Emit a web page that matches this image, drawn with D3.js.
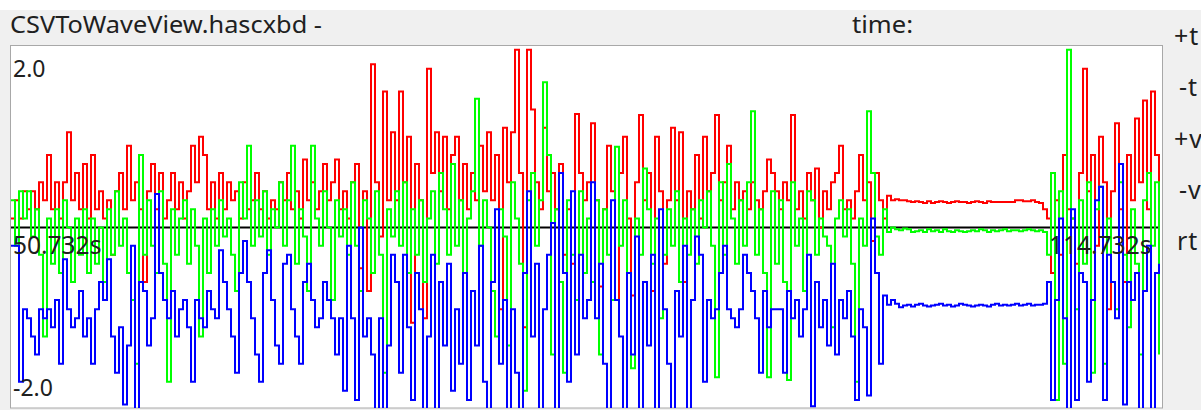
<!DOCTYPE html>
<html><head><meta charset="utf-8">
<script src="https://cdn.jsdelivr.net/npm/d3@7"></script>
<style>html,body{margin:0;padding:0;background:#f0f0f0;overflow:hidden}svg{display:block}</style>
</head><body>
<svg id="c" width="1201" height="410"></svg>
<script>
const title = "CSVToWaveView.hascxbd -";
const timeTitle = "time:";
const buttons = ["+t", "-t", "+v", "-v", "rt"];
const yTickValues = [2.0, -2.0];
const yTickLabels = ["2.0", "-2.0"];
const timeTicks = [50.732, 114.732];
const timeLabels = ["50.732s", "114.732s"];

const red = [
0.1,0.3,0.1,0.4,0.2,0.4,0.2,0.5,0.3,0.8,0.2,0.5,0.1,0.5,1.05,0.3,0.6,0.2,0.7,0.1,0.8,0.2,0.4,0.1,0.3,-0.3,0.4,0.6,0.2,0.9,0.3,0.5,0.2,-0.6,0.4,0.7,0.2,0.6,0.1,0.3,0.6,0.2,0.5,0.1,0.4,0.9,0.5,1.0,
0.8,0.2,0.5,0.1,0.6,0.2,0.5,0.3,0.4,0.1,0.5,0.2,0.3,0.6,0.2,0.4,0.1,0.3,0.2,0.5,0.3,0.6,0.2,0.4,0.1,0.75,0.3,0.5,0.2,0.4,0.7,0.3,0.5,0.75,0.2,0.4,0.1,0.5,0.7,-0.45,0.4,-0.7,1.8,0.5,-0.1,1.5,0.3,1.05,
0.3,1.5,0.5,1.0,-1.05,0.7,0.3,-1.0,1.75,0.6,1.05,0.4,1.0,0.2,0.8,1.0,0.3,0.7,0.2,0.6,0.3,0.9,0.4,1.05,0.3,0.8,-0.9,1.1,0.5,1.05,1.96,0.6,-1.1,1.96,1.3,0.5,0.2,1.1,0.4,0.6,0.2,0.7,-0.3,0.2,-0.4,1.25,0.6,0.3,
0.5,1.15,0.3,-0.65,0.2,0.9,0.4,-0.8,0.6,1.0,0.1,-0.75,0.5,1.24,0.3,0.6,-0.7,1.0,0.4,-0.4,0.3,1.1,0.3,1.05,-0.6,0.4,0.2,0.8,0.1,1.0,0.4,0.6,1.24,0.3,0.5,0.9,0.2,0.5,0.3,0.4,0.2,0.5,0.3,0.2,0.4,0.75,0.6,0.4,
0.2,0.5,0.3,1.24,0.2,0.4,0.1,0.6,0.3,0.65,0.0,0.4,0.2,0.5,0.6,0.9,0.2,0.3,0.1,0.4,0.8,0.3,0.5,-0.15,0.6,0.3,0.1,0.35,
0.3,0.31,0.3,0.3,0.29,0.28,0.29,0.28,0.27,0.29,0.27,0.28,0.29,0.28,0.27,0.28,0.29,0.28,0.28,0.27,
0.28,0.29,0.28,0.27,0.29,0.28,0.28,0.28,0.28,0.28,0.28,0.3,0.3,0.29,0.29,0.3,0.28,0.27,0.2,
0.1,-0.5,0.3,-0.3,0.8,0.2,0.1,-0.4,0.6,1.75,0.4,0.8,-0.2,1.0,0.5,-0.9,0.4,1.15,0.2,-0.6,0.8,0.3,1.2,0.5,1.4,0.2,1.5,0.8,0.3
];

const green = [
0.3,-0.2,0.4,0.1,0.4,-0.1,0.2,-0.3,-1.2,0.1,-0.4,0.2,-0.5,0.3,0.0,-0.6,0.1,-0.3,0.2,-0.5,0.1,-0.4,0.0,-0.6,0.2,-0.3,0.4,-0.2,0.1,-0.5,-0.8,-1.5,0.8,-0.3,0.3,-0.2,-0.5,0.4,-0.4,-1.7,0.2,-0.3,0.1,0.3,-0.4,0.2,-0.2,-1.2,
0.1,-0.5,0.2,-0.2,0.3,-0.1,0.1,-0.3,-0.7,0.5,0.1,0.9,-0.2,0.3,-0.1,0.4,-0.3,0.2,0.0,0.5,-0.2,0.3,0.9,-0.4,0.2,-0.1,-0.7,0.9,0.1,-0.2,0.4,0.0,-0.8,0.3,-0.1,0.2,-0.3,0.5,-0.2,-0.7,0.3,0.1,-0.5,0.4,-0.3,-1.6,0.2,-0.1,
0.4,-0.2,0.5,-0.5,0.2,-0.3,0.3,-0.6,0.1,0.4,-0.4,0.6,0.2,-0.3,0.7,-0.2,0.3,-0.5,0.1,0.4,1.42,-0.2,0.3,0.0,-0.7,-1.2,0.2,-0.1,-1.3,0.5,0.1,-0.4,-1.8,0.3,0.6,-0.2,0.3,1.6,0.8,-1.4,0.2,-0.6,-1.6,0.3,-0.3,-0.8,0.4,-0.5,
0.1,-0.6,0.3,-1.4,0.2,-0.3,-0.8,0.89,-0.2,0.3,-0.5,-1.55,0.1,-0.3,0.65,0.2,-0.4,0.1,-1.0,-0.3,0.2,-0.2,0.4,-0.6,0.1,-0.3,0.2,-0.4,0.3,0.0,0.4,-0.2,-1.65,0.5,-0.3,0.7,0.1,-0.4,0.3,-0.2,0.5,1.28,-0.3,0.2,-0.5,-1.65,0.4,-0.4,
0.3,-0.6,-1.68,0.5,-0.2,0.1,-0.7,0.4,0.3,-0.3,0.1,-0.1,-0.2,-1.1,0.1,0.3,-0.1,0.2,-0.4,-1.7,0.1,-0.2,1.28,0.6,-0.1,-0.3,0.2,-0.05,
0.0,-0.02,-0.03,-0.01,-0.02,-0.05,-0.04,-0.03,-0.05,-0.02,-0.04,-0.03,-0.05,-0.02,-0.04,-0.05,-0.03,-0.04,-0.05,-0.04,
-0.03,-0.04,-0.02,-0.03,-0.05,-0.03,-0.04,-0.03,-0.02,-0.04,-0.03,-0.03,-0.04,-0.03,-0.02,-0.03,-0.04,-0.03,-0.05,
-0.3,0.6,-1.9,0.4,-1.5,1.96,0.1,-0.9,0.3,-0.4,0.5,-1.6,0.2,0.45,-1.5,0.1,-0.6,-0.9,0.5,-0.3,-1.1,0.2,-0.4,-1.4,0.3,0.6,-0.2,0.5,-1.4
];

const blue = [
-0.2,-0.2,-1.7,-0.9,-1.0,-1.2,-1.4,-0.9,-1.0,-0.9,-1.1,-0.8,-1.5,-0.35,-0.9,-1.1,-1.0,-0.7,-1.2,-1.0,-1.5,-0.9,-0.6,-0.8,-0.35,-1.2,-1.6,-1.1,-1.95,-1.3,-0.2,-2.0,-0.6,-0.7,-1.3,-1.0,0.37,-0.5,-0.8,-1.0,-0.7,-1.2,-0.9,-0.8,-1.1,-1.7,-0.8,-1.0,
-1.1,-0.7,-0.9,-1.0,-0.25,-0.6,-0.9,-1.2,-1.6,-0.5,-0.15,-0.6,-1.0,-1.4,-1.7,-0.5,-0.25,-0.8,-1.3,-1.5,-0.4,-0.3,-0.9,-1.2,-1.5,-0.6,-0.4,-0.8,-1.1,-1.0,-0.6,-0.8,-1.0,-1.4,-1.0,-1.8,-0.2,-1.0,-1.9,0.0,-1.2,-1.0,-1.4,-2.0,-1.0,-2.0,-1.3,-0.3,
-0.6,-1.6,-0.3,-1.1,-1.9,-0.5,-0.9,-2.0,-1.2,-0.3,-2.0,-0.6,-1.3,-0.4,-1.8,-0.9,-1.5,-0.5,-1.9,-0.7,-1.3,-0.2,-1.7,-2.0,-0.6,0.2,-1.5,-0.8,-2.0,-0.9,-1.6,-2.0,-0.5,0.4,-1.2,-0.4,-2.0,-0.9,-0.3,0.05,-2.0,0.6,-0.5,-1.7,0.4,-1.4,-0.3,-1.0,
-0.8,0.5,-1.0,-0.4,-1.5,-2.0,0.3,-0.8,-1.2,-2.0,-0.5,-1.4,-0.1,-2.0,-0.6,-1.3,-0.3,-2.0,0.2,-0.9,-1.5,-2.0,-0.7,-1.2,-0.2,-2.0,-0.8,-0.1,-0.3,-1.7,-0.8,-1.0,-0.9,-0.5,-0.2,-0.9,-1.0,-1.1,-0.9,-0.3,-0.5,-0.7,-1.0,-1.6,-0.7,-1.1,-0.9,-0.9,
-0.9,-1.6,-0.7,-1.0,-0.8,-1.2,-0.9,-0.3,-1.97,-0.6,-1.1,-0.8,-1.3,-0.4,-1.4,-0.8,-1.0,-0.7,-1.2,-1.9,-0.9,-1.1,-1.85,0.1,-0.5,-1.5,-0.75,-0.85,
-0.8,-0.84,-0.88,-0.86,-0.85,-0.87,-0.85,-0.84,-0.86,-0.87,-0.86,-0.85,-0.84,-0.86,-0.85,-0.87,-0.86,-0.84,-0.85,-0.86,
-0.87,-0.86,-0.85,-0.86,-0.87,-0.85,-0.84,-0.86,-0.85,-0.86,-0.85,-0.84,-0.86,-0.85,-0.84,-0.86,-0.85,-0.85,-0.84,
-0.6,-1.9,-0.8,0.1,-1.0,-2.0,0.2,-1.9,-0.5,-0.6,-1.7,-0.8,0.3,0.45,-1.9,-0.3,-0.6,-1.0,0.7,-1.95,-0.6,-0.8,-0.5,-2.0,-0.7,-0.2,-2.0,-0.5,-0.4
];

const seriesColors = ["#ff0000", "#00ff00", "#0000ff"];
const seriesList = [red, green, blue];

const W = 1201, H = 410;
const box = {x0: 10, x1: 1162, y0: 46, y1: 408};
const svg = d3.select("#c");
const FONT = "'Noto Sans', 'DejaVu Sans', sans-serif";

// backgrounds
svg.append("rect").attr("x", 0).attr("y", 0).attr("width", W).attr("height", H).attr("fill", "#f0f0f0");
svg.append("rect").attr("x", 0).attr("y", 0).attr("width", W).attr("height", 10).attr("fill", "#ffffff");

// header
svg.append("text").attr("x", 10).attr("y", 33).attr("font-family", FONT).attr("font-size", 23)
  .attr("textLength", 312).attr("lengthAdjust", "spacingAndGlyphs")
  .attr("fill", "#202020").text(title);
svg.append("text").attr("x", 852).attr("y", 33).attr("font-family", FONT).attr("font-size", 23)
  .attr("textLength", 61).attr("lengthAdjust", "spacingAndGlyphs")
  .attr("fill", "#202020").text(timeTitle);

// right-side buttons
const btnY = d3.scalePoint().domain(buttons).range([45, 250]);
svg.selectAll("text.btn").data(buttons).join("text").attr("class", "btn")
  .attr("x", d => d.startsWith("+") ? 1174 : (d.startsWith("-") ? 1179 : 1177))
  .attr("y", d => btnY(d)).attr("font-family", FONT).attr("font-size", 25)
  .attr("letter-spacing", 1)
  .attr("fill", "#202020").text(d => d);

// plot box
svg.append("rect").attr("x", box.x0 + 0.5).attr("y", box.y0 - 0.5)
  .attr("width", box.x1 - box.x0).attr("height", box.y1 - box.y0 + 0.5)
  .attr("fill", "#ffffff").attr("stroke", "#a8a8a8").attr("stroke-width", 1);

svg.append("clipPath").attr("id", "clip").append("rect")
  .attr("x", box.x0 + 1).attr("y", box.y0).attr("width", box.x1 - box.x0 - 1).attr("height", box.y1 - box.y0);

const x = d3.scaleLinear().domain([0, 288]).range([box.x0, box.x1]);
const y = d3.scaleLinear().domain([-2, 2]).range([409, 46]);
const tx = d3.scaleLinear().domain(timeTicks).range([13, 1049]);

const g = svg.append("g").attr("clip-path", "url(#clip)");

// zero line
g.append("line").attr("x1", box.x0).attr("x2", box.x1 - 2).attr("y1", y(0)).attr("y2", y(0))
  .attr("stroke", "#000").attr("stroke-width", 2);

const line = d3.line().x((d, i) => x(i) + 1).y(d => y(d)).curve(d3.curveStepAfter);
seriesList.forEach((s, k) => {
  g.append("path").datum(s).attr("d", line).attr("fill", "none")
    .attr("stroke", seriesColors[k]).attr("stroke-width", 2);
});

// y labels
svg.selectAll("text.ylab").data(yTickValues).join("text").attr("class", "ylab")
  .attr("x", 13).attr("y", d => d > 0 ? y(d) + 31 : y(d) - 13)
  .attr("font-family", FONT).attr("font-size", 23).attr("fill", "#202020")
  .text((d, i) => yTickLabels[i]);

// time labels
svg.selectAll("text.tlab").data(timeTicks).join("text").attr("class", "tlab")
  .attr("x", d => tx(d)).attr("y", y(0) + 26)
  .attr("font-family", FONT).attr("font-size", 24.5).attr("fill", "#202020")
  .text((d, i) => timeLabels[i]);
</script>
</body></html>
